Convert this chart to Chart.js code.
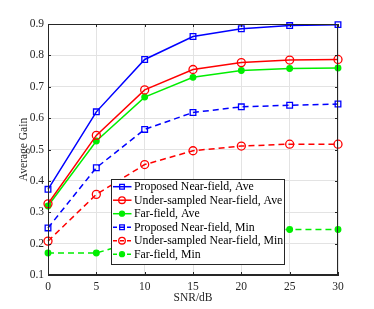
<!DOCTYPE html>
<html>
<head>
<meta charset="utf-8">
<script src="https://cdn.jsdelivr.net/npm/chart.js@4"></script>
<style>
  html, body { margin: 0; padding: 0; background: #fff; }
  #wrap { width: 374px; height: 309px; }
</style>
</head>
<body>
<div id="wrap"><canvas id="chart"></canvas></div>
<script>
// SNR (dB) on the x axis
const snr = [0, 5, 10, 15, 20, 25, 30];

// average gain for each scheme
const proposedAve = [0.373, 0.620, 0.787, 0.860, 0.885, 0.895, 0.898];
const underAve    = [0.327, 0.545, 0.690, 0.755, 0.777, 0.785, 0.787];
const farAve      = [0.320, 0.527, 0.667, 0.730, 0.752, 0.758, 0.760];
const proposedMin = [0.250, 0.442, 0.564, 0.618, 0.636, 0.641, 0.645];
const underMin    = [0.208, 0.357, 0.452, 0.496, 0.511, 0.517, 0.517];
const farMin      = [0.170, 0.170, 0.215, 0.237, 0.243, 0.245, 0.245];

const legendLabels = [
    "Proposed Near-field, Ave",
    "Under-sampled Near-field, Ave",
    "Far-field, Ave",
    "Proposed Near-field, Min",
    "Under-sampled Near-field, Min",
    "Far-field, Min",
];

const yTicks = [0.1, 0.2, 0.3, 0.4, 0.5, 0.6, 0.7, 0.8, 0.9];

const BLUE = "#0000ff";
const RED = "#ff0000";
const GREEN = "#00ee00";
const FONT = "'Liberation Serif', 'DejaVu Serif', serif";

// 系列ごとのスタイル
function series(label, values, color, style, dashed) {
    const filled = style === "star";
    return {
        label: label,
        data: values.map((v, i) => ({ x: snr[i], y: v })),
        borderColor: color,
        backgroundColor: filled ? color : "rgba(0,0,0,0)",
        borderWidth: 1.5,
        borderDash: dashed ? [6, 4] : [],
        pointStyle: filled ? "circle" : style,
        pointRadius: filled ? 2.8 : 4,
        pointBorderWidth: 1.3,
        pointBackgroundColor: filled ? color : "rgba(0,0,0,0)",
        tension: 0,
        fill: false,
        clip: false,
    };
}

const datasets = [
    series(legendLabels[0], proposedAve, BLUE, "rect", false),
    series(legendLabels[1], underAve, RED, "circle", false),
    series(legendLabels[2], farAve, GREEN, "star", false),
    series(legendLabels[3], proposedMin, BLUE, "rect", true),
    series(legendLabels[4], underMin, RED, "circle", true),
    series(legendLabels[5], farMin, GREEN, "star", true),
];

// 枠線・内向き目盛・凡例ボックスを描く
const frameAndLegend = {
    id: "frameAndLegend",
    afterDraw(chart) {
        const ctx = chart.ctx;
        const a = chart.chartArea;
        const xs = chart.scales.x;
        const ys = chart.scales.y;
        ctx.save();
        ctx.strokeStyle = "#262626";
        ctx.lineWidth = 1;
        ctx.setLineDash([]);
        ctx.strokeRect(a.left + 0.5, a.top + 0.5, a.right - a.left - 1, a.bottom - a.top - 1);
        ctx.beginPath();
        yTicks.forEach((t) => {
            const y = Math.round(ys.getPixelForValue(t)) + 0.5;
            ctx.moveTo(a.left, y); ctx.lineTo(a.left + 3, y);
            ctx.moveTo(a.right, y); ctx.lineTo(a.right - 3, y);
        });
        snr.forEach((t) => {
            const x = Math.round(xs.getPixelForValue(t)) + 0.5;
            ctx.moveTo(x, a.bottom); ctx.lineTo(x, a.bottom - 3);
            ctx.moveTo(x, a.top); ctx.lineTo(x, a.top + 3);
        });
        ctx.stroke();

        // 凡例
        const bx = 111, by = 179, bw = 173, bh = 85;
        ctx.fillStyle = "#fff";
        ctx.fillRect(bx, by, bw, bh);
        ctx.strokeStyle = "#262626";
        ctx.strokeRect(bx + 0.5, by + 0.5, bw, bh);
        ctx.font = "11.8px " + FONT;
        ctx.textBaseline = "middle";
        datasets.forEach((ds, i) => {
            const y = by + 7.7 + i * 13.5;
            ctx.strokeStyle = ds.borderColor;
            ctx.lineWidth = ds.borderWidth;
            ctx.setLineDash(ds.borderDash.length ? [4, 3] : []);
            ctx.beginPath();
            ctx.moveTo(113, y); ctx.lineTo(131.5, y);
            ctx.stroke();
            ctx.setLineDash([]);
            ctx.lineWidth = ds.pointBorderWidth;
            ctx.fillStyle = ds.pointBackgroundColor;
            Chart.helpers.drawPoint(ctx, {
                pointStyle: ds.pointStyle,
                radius: ds.pointStyle === "circle" && ds.pointBackgroundColor !== ds.borderColor ? 3.3 : (ds.pointStyle === "rect" ? 3.3 : 2.5),
                borderWidth: ds.pointBorderWidth,
                rotation: 0,
            }, 122, y);
            ctx.fillStyle = "#000";
            ctx.fillText(ds.label, 134, y + 0.5);
        });
        ctx.restore();
    },
};

new Chart(document.getElementById("chart"), {
    type: "line",
    data: { datasets: datasets },
    options: {
        responsive: true,
        maintainAspectRatio: false,
        animation: false,
        layout: { padding: { left: 17, right: 36, top: 24, bottom: 4 } },
        plugins: {
            legend: { display: false },
            tooltip: { enabled: false },
        },
        scales: {
            x: {
                type: "linear",
                min: 0,
                max: 30,
                afterBuildTicks: (axis) => { axis.ticks = snr.map((v) => ({ value: v })); },
                afterFit: (axis) => { axis.height = 30; },
                grid: { color: "#e3e3e3", drawTicks: false },
                border: { color: "#262626" },
                ticks: { color: "#262626", padding: 5, font: { family: FONT, size: 11.5 } },
                title: {
                    display: true,
                    text: "SNR/dB",
                    color: "#262626",
                    padding: { top: 1, bottom: 0 },
                    font: { family: FONT, size: 11.5 },
                },
            },
            y: {
                min: 0.1,
                max: 0.9,
                afterBuildTicks: (axis) => { axis.ticks = yTicks.map((v) => ({ value: v })); },
                afterFit: (axis) => { axis.width = 31; },
                grid: { color: "#e3e3e3", drawTicks: false },
                border: { color: "#262626" },
                ticks: {
                    color: "#262626",
                    padding: 4,
                    font: { family: FONT, size: 11.5 },
                    callback: (v) => v.toFixed(1),
                },
                title: {
                    display: true,
                    text: "Average Gain",
                    color: "#262626",
                    padding: { top: 0, bottom: 0 },
                    font: { family: FONT, size: 11.5 },
                },
            },
        },
    },
    plugins: [frameAndLegend],
});
</script>
</body>
</html>
